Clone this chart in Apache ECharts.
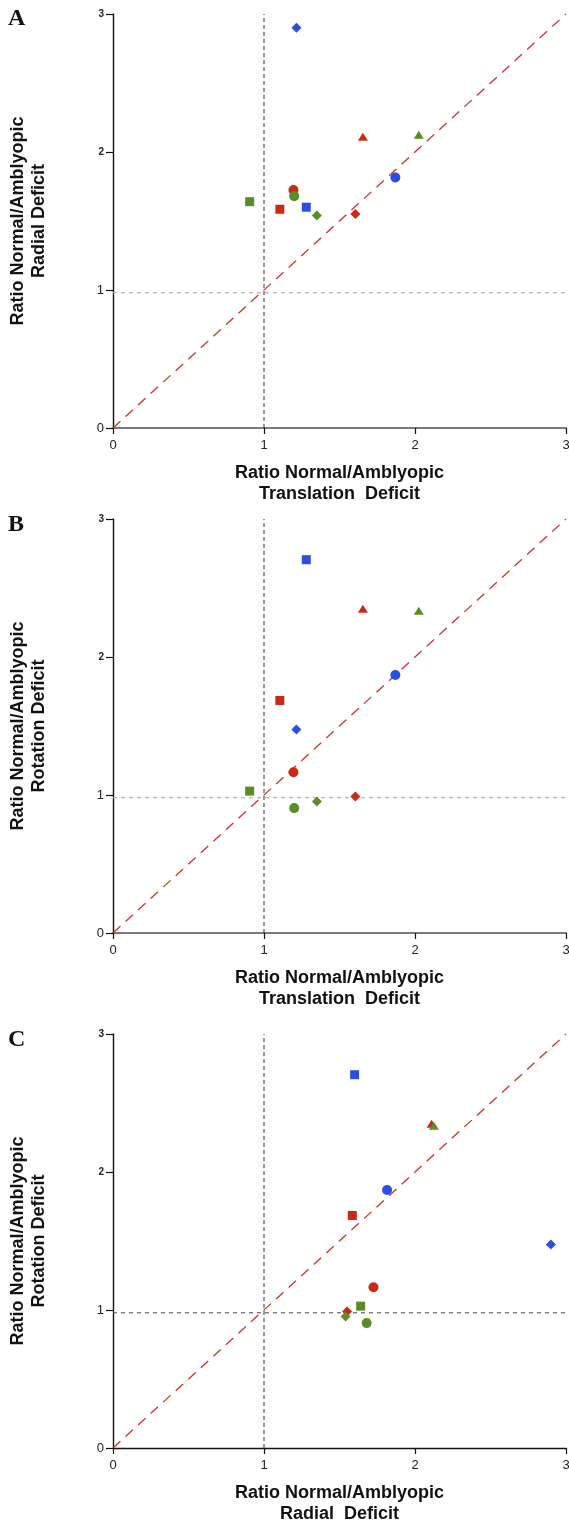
<!DOCTYPE html>
<html>
<head>
<meta charset="utf-8">
<script src="https://cdn.jsdelivr.net/npm/echarts@6/dist/echarts.min.js"></script>
<style>
html,body{margin:0;padding:0;background:#fff;}
#chart{width:569px;height:1521px;}
</style>
</head>
<body>
<div id="chart"></div>
<script>
// Subjects: colour + marker shape
const subjectColors = ['blue','blue','blue','red','red','red','red','green','green','green','green'];
const subjectShapes = ['diamond','circle','rect','triangle','circle','rect','diamond','triangle','circle','rect','diamond'];
// Ratio normal/amblyopic deficits
const translationDeficit = [1.215, 1.87, 1.28, 1.655, 1.195, 1.105, 1.605, 2.025, 1.20, 0.905, 1.35];
const radialDeficit      = [2.90, 1.815, 1.60, 2.11, 1.725, 1.585, 1.55, 2.125, 1.68, 1.64, 1.54];
const rotationDeficit    = [1.475, 1.87, 2.705, 2.35, 1.165, 1.685, 0.99, 2.335, 0.905, 1.028, 0.953];
// Axis ticks and reference lines
const axisTicks = [0, 1, 2, 3];
const unityLine = [[0, 0], [3, 3]];
const verticalRef = [[1, 0], [1, 3]];
const horizontalRef = [[0, 0.98], [3, 0.98]];
const panelLetters = ['A', 'B', 'C'];
const xTitles = ['Ratio Normal/Amblyopic\nTranslation  Deficit', 'Ratio Normal/Amblyopic\nTranslation  Deficit', 'Ratio Normal/Amblyopic\nRadial  Deficit'];
const yTitles = ['Ratio Normal/Amblyopic\nRadial Deficit', 'Ratio Normal/Amblyopic\nRotation Deficit', 'Ratio Normal/Amblyopic\nRotation Deficit'];

const palette = {blue: '#2c4de2', red: '#cc2914', green: '#5a8c28'};
const sizes = {circle: 10, rect: 9, diamond: 10, triangle: [10, 8]};

const panels = [
  {x: translationDeficit, y: radialDeficit, top: 14, xAxisColor: '#7a7a7a', xAxisWidth: 2.2, hColor: '#aaaaaa', letterY: 19},
  {x: translationDeficit, y: rotationDeficit, top: 519, xAxisColor: '#7a7a7a', xAxisWidth: 2.2, hColor: '#aaaaaa', letterY: 525},
  {x: radialDeficit, y: rotationDeficit, top: 1034, xAxisColor: '#111111', xAxisWidth: 1.4, hColor: '#555555', letterY: 1040}
];

const font = '"Liberation Sans", Arial, sans-serif';
const grids = [], xAxes = [], yAxes = [], series = [], graphics = [];

panels.forEach((p, k) => {
  grids.push({left: 113, width: 453, top: p.top, height: 414, outerBoundsMode: 'none', containLabel: false});
  xAxes.push({
    gridIndex: k, type: 'value', min: axisTicks[0], max: axisTicks[axisTicks.length - 1], interval: 1,
    splitLine: {show: false},
    axisLine: {show: true, onZero: false, lineStyle: {color: p.xAxisColor, width: p.xAxisWidth}},
    axisTick: {show: true, length: 6, lineStyle: {color: '#111', width: 1.2}},
    axisLabel: {margin: 11, fontSize: 13, color: '#222', fontFamily: font, showMaxLabel: true, showMinLabel: true},
    name: xTitles[k], nameLocation: 'middle', nameGap: 35,
    nameTextStyle: {fontSize: 18, fontWeight: 'bold', color: '#111', fontFamily: font, lineHeight: 21}
  });
  yAxes.push({
    gridIndex: k, type: 'value', min: axisTicks[0], max: axisTicks[axisTicks.length - 1], interval: 1,
    splitLine: {show: false},
    axisLine: {show: true, onZero: false, lineStyle: {color: '#111', width: 1.4}},
    axisTick: {show: true, length: 7, lineStyle: {color: '#111', width: 1.2}},
    axisLabel: {
      margin: 9, color: '#222', fontFamily: font,
      formatter: v => (v >= 2 ? '{s|' + v + '}' : '{n|' + v + '}'),
      rich: {s: {fontSize: 10, fontWeight: 'bold', color: '#222', fontFamily: font}, n: {fontSize: 13, color: '#222', fontFamily: font}}
    },
    name: yTitles[k], nameLocation: 'middle', nameGap: 63,
    nameTextStyle: {fontSize: 18, fontWeight: 'bold', color: '#111', fontFamily: font, lineHeight: 21}
  });
  series.push({
    type: 'line', xAxisIndex: k, yAxisIndex: k, data: horizontalRef, symbol: 'none', silent: true,
    lineStyle: {color: p.hColor, width: 1.1, type: [4, 4]}, z: 1
  });
  series.push({
    type: 'line', xAxisIndex: k, yAxisIndex: k, data: verticalRef, symbol: 'none', silent: true,
    lineStyle: {color: '#333', width: 1, type: [4, 3]}, z: 1
  });
  series.push({
    type: 'line', xAxisIndex: k, yAxisIndex: k, data: unityLine, symbol: 'none', silent: true,
    lineStyle: {color: '#cf3322', width: 1.3, type: [10, 7]}, z: 2
  });
  series.push({
    type: 'scatter', xAxisIndex: k, yAxisIndex: k, z: 5,
    itemStyle: {opacity: 1},
    data: subjectColors.map((c, i) => ({
      value: [p.x[i], p.y[i]],
      symbol: subjectShapes[i],
      symbolSize: sizes[subjectShapes[i]],
      itemStyle: {color: palette[c], opacity: 1}
    }))
  });
  graphics.push({
    type: 'text', left: 8, top: p.letterY - 12,
    style: {text: panelLetters[k], font: 'bold 24px "Liberation Serif", "Times New Roman", serif', fill: '#111'}
  });
});

const chart = echarts.init(document.getElementById('chart'), null, {renderer: 'canvas'});
chart.setOption({
  animation: false,
  backgroundColor: '#ffffff',
  grid: grids, xAxis: xAxes, yAxis: yAxes, series: series, graphic: graphics
});
</script>
</body>
</html>
